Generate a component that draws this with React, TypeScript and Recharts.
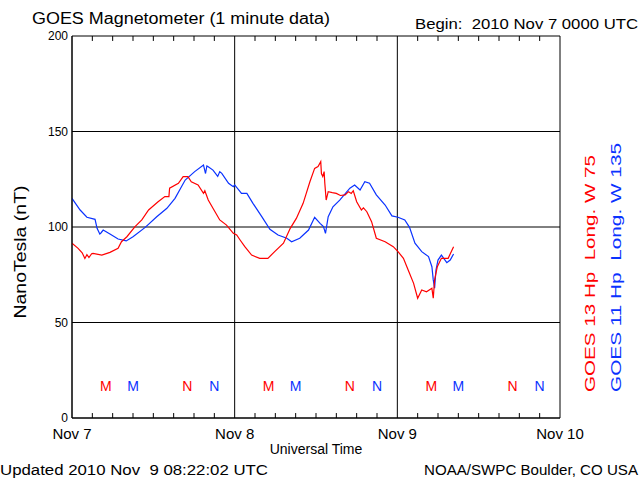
import React from "react";
import {
  ComposedChart, Line, Scatter, XAxis, YAxis, CartesianGrid, ReferenceLine,
} from "recharts";

// hours since 2010 Nov 7 0000 UTC, nT
const goes13: [number, number][] = [
  [0, 91.5], [0.9, 88.8], [1.5, 86.5], [1.9, 83.5], [2.2, 85.5], [2.5, 84], [2.9, 86],
  [3.1, 86.2], [4.4, 85.3], [5.6, 86.7], [6.8, 88.8], [7.3, 92.3], [8.1, 94.9],
  [9.3, 100.2], [10.3, 103.7], [11.3, 108.9], [12.7, 113.2], [13.7, 115.9], [14.3, 115.9],
  [14.4, 120.3], [15.7, 122.9], [16.4, 126.4], [17.1, 126.4], [17.6, 123.7], [18.6, 122.0],
  [19.4, 117.6], [19.6, 119], [20.1, 114.1], [21.1, 108.0], [21.8, 103.7], [22.8, 101.0],
  [23.8, 96.7], [24.3, 95.8], [24.8, 93.2], [25.5, 89.7], [26.5, 85.3], [27.7, 83.6],
  [28.9, 83.6], [29.9, 87.1], [31.2, 91.5], [32.2, 99.3], [33.1, 104.5], [34.1, 112.4],
  [35.1, 123.7], [35.8, 130.7], [36.3, 131.6], [36.7, 134.2], [36.8, 128], [37.0, 126.4],
  [37.2, 129], [37.3, 122.9], [37.5, 114.1], [37.8, 118.5], [38.4, 118], [39.0, 117.6],
  [39.6, 116.5], [40.3, 116.8], [40.8, 118.5], [41.2, 117.6], [41.5, 119], [42.0, 113.2],
  [42.7, 108.9], [43.0, 110], [43.5, 108.0], [44.2, 102.8], [44.9, 94.1], [46.2, 92.3],
  [47.4, 89.7], [48.1, 87.1], [48.9, 83.6], [49.6, 77.5], [50.4, 70.5], [51.0, 62.7],
  [51.6, 67.0], [52.3, 66.1], [53.1, 67.9], [53.3, 62.7], [53.5, 72.3], [53.9, 79.2],
  [54.5, 83.6], [55.5, 83.6], [56.3, 89.7],
];

const goes11: [number, number][] = [
  [0, 115.0], [1.2, 108.9], [2.2, 105.1], [3.4, 104.0], [3.7, 99.3], [4.1, 96.3], [4.3, 97],
  [4.6, 98.4], [5.6, 96.3], [6.8, 93.7], [8.0, 92.7], [9.0, 94.9], [10.8, 99.8],
  [12.5, 105.4], [14.0, 109.8], [15.2, 115.0], [16.7, 124.6], [18.1, 129.0], [19.4, 132.5],
  [19.7, 128], [19.9, 132], [20.1, 131.6], [20.8, 129.8], [21.5, 126.5], [21.8, 129],
  [22.1, 128.1], [23.1, 122.9], [23.8, 121.1], [24.0, 122.0], [24.8, 118.5], [25.0, 117.6],
  [25.8, 117.6], [26.7, 112.4], [28.0, 105.4], [29.2, 98.8], [30.4, 95.8], [31.7, 94.1],
  [32.4, 92.3], [33.6, 94.1], [34.9, 98.4], [35.8, 105.1], [36.6, 101.9], [37.1, 100.2],
  [37.4, 96.7], [37.8, 105.4], [38.5, 110.6], [39.5, 114.1], [41.0, 120.3], [41.7, 122.0],
  [42.5, 119.4], [43.2, 123.7], [43.9, 122.9], [44.9, 116.8], [46.2, 111.5], [47.2, 105.8],
  [48.1, 105.1], [49.1, 103.7], [49.8, 99.8], [50.6, 91.5], [51.6, 87.1], [52.6, 84.5],
  [53.1, 79.2], [53.3, 72.3], [53.5, 68], [53.7, 77.5], [54.0, 82.7], [54.5, 85.3],
  [55.3, 81.3], [55.8, 82.7], [56.3, 85.9],
];

// local midnight (M) / noon (N) markers
const midnight13 = [5, 29, 53];
const noon13 = [17, 41, 65];
const midnight11 = [9, 33, 57];
const noon11 = [21, 45, 69];

const dayTicks = [0, 24, 48, 72];
const dayLabels = ["Nov 7", "Nov 8", "Nov 9", "Nov 10"];
const yTicks = [0, 50, 100, 150, 200];
const minorTicks = [3, 6, 9, 12, 15, 18, 21, 27, 30, 33, 36, 39, 42, 45, 51, 54, 57, 60, 63, 66, 69];

const RED = "#ff0000";
const BLUE = "#0a32ff";
const FONT = "'Liberation Sans', Arial, sans-serif";
const MARK_Y = 16.8;

const toPts = (s: [number, number][]) => s.map(([h, v]) => ({ h, v }));
const marks = (hours: number[], label: string) => hours.map((h) => ({ h, v: MARK_Y, label }));

function Letter(color: string) {
  return (props: any) => (
    <text x={props.cx} y={props.cy + 5} textAnchor="middle" fontSize={14} fill={color} fontFamily={FONT}>
      {props.payload.label}
    </text>
  );
}

export default function App() {
  return (
    <div style={{ position: "absolute", left: 0, top: 0, width: 640, height: 480, background: "#fff", fontFamily: FONT }}>
      <ComposedChart width={640} height={480} margin={{ top: 36, right: 80, bottom: 32, left: 32 }}>
        <CartesianGrid stroke="#000" strokeWidth={1} horizontalValues={yTicks} verticalValues={dayTicks} />
        <XAxis
          dataKey="h" type="number" domain={[0, 72]} ticks={dayTicks}
          tickFormatter={(v: number) => dayLabels[dayTicks.indexOf(v)] ?? ""}
          tick={{ fontSize: 15, fill: "#000" }} tickLine={false} tickSize={0} tickMargin={10}
          axisLine={{ stroke: "#000" }} height={30} allowDataOverflow
        />
        <XAxis xAxisId="top" orientation="top" type="number" domain={[0, 72]} tick={false} tickLine={false} axisLine={{ stroke: "#000" }} height={0} />
        <YAxis
          type="number" domain={[0, 200]} ticks={yTicks}
          tick={{ fontSize: 12, fill: "#000" }} tickLine={false} tickSize={0} tickMargin={4}
          axisLine={{ stroke: "#000" }} width={40}
        />
        <YAxis yAxisId="right" orientation="right" type="number" domain={[0, 200]} tick={false} tickLine={false} axisLine={{ stroke: "#000" }} width={0} />
        {minorTicks.map((h) => (
          <ReferenceLine key={"b" + h} segment={[{ x: h, y: 0 }, { x: h, y: 2.6 }]} stroke="#000" />
        ))}
        {minorTicks.map((h) => (
          <ReferenceLine key={"t" + h} segment={[{ x: h, y: 200 }, { x: h, y: 197.4 }]} stroke="#000" />
        ))}
        <Line data={toPts(goes11)} dataKey="v" type="linear" stroke={BLUE} strokeWidth={1.2} dot={false} isAnimationActive={false} />
        <Line data={toPts(goes13)} dataKey="v" type="linear" stroke={RED} strokeWidth={1.2} dot={false} isAnimationActive={false} />
        <Scatter data={[...marks(midnight13, "M"), ...marks(noon13, "N")]} dataKey="v" shape={Letter(RED)} isAnimationActive={false} />
        <Scatter data={[...marks(midnight11, "M"), ...marks(noon11, "N")]} dataKey="v" shape={Letter(BLUE)} isAnimationActive={false} />
      </ComposedChart>
      <svg width={640} height={480} style={{ position: "absolute", left: 0, top: 0, pointerEvents: "none" }} fontFamily={FONT}>
        <text x={32} y={24} fontSize={16} textLength={298} lengthAdjust="spacingAndGlyphs">GOES Magnetometer (1 minute data)</text>
        <text x={415} y={29} fontSize={14} textLength={223} lengthAdjust="spacingAndGlyphs">{"Begin:\u00a0\u00a02010 Nov 7 0000 UTC"}</text>
        <text x={316} y={454} fontSize={14} textAnchor="middle">Universal Time</text>
        <text x={0} y={475} fontSize={14} textLength={268} lengthAdjust="spacingAndGlyphs">{"Updated 2010 Nov\u00a0\u00a09 08:22:02 UTC"}</text>
        <text x={424} y={475} fontSize={14} textLength={214} lengthAdjust="spacingAndGlyphs">NOAA/SWPC Boulder, CO USA</text>
        <text x={26} y={252} fontSize={16} textAnchor="middle" transform="rotate(-90 26 252)" textLength={133} lengthAdjust="spacingAndGlyphs">NanoTesla (nT)</text>
        <text x={595} y={392} fontSize={15} fill={RED} transform="rotate(-90 595 392)" textLength={237} lengthAdjust="spacingAndGlyphs">{"GOES 13 Hp\u00a0\u00a0Long. W 75"}</text>
        <text x={621} y={392} fontSize={15} fill={BLUE} transform="rotate(-90 621 392)" textLength={249} lengthAdjust="spacingAndGlyphs">{"GOES 11 Hp\u00a0\u00a0Long. W 135"}</text>
      </svg>
    </div>
  );
}
